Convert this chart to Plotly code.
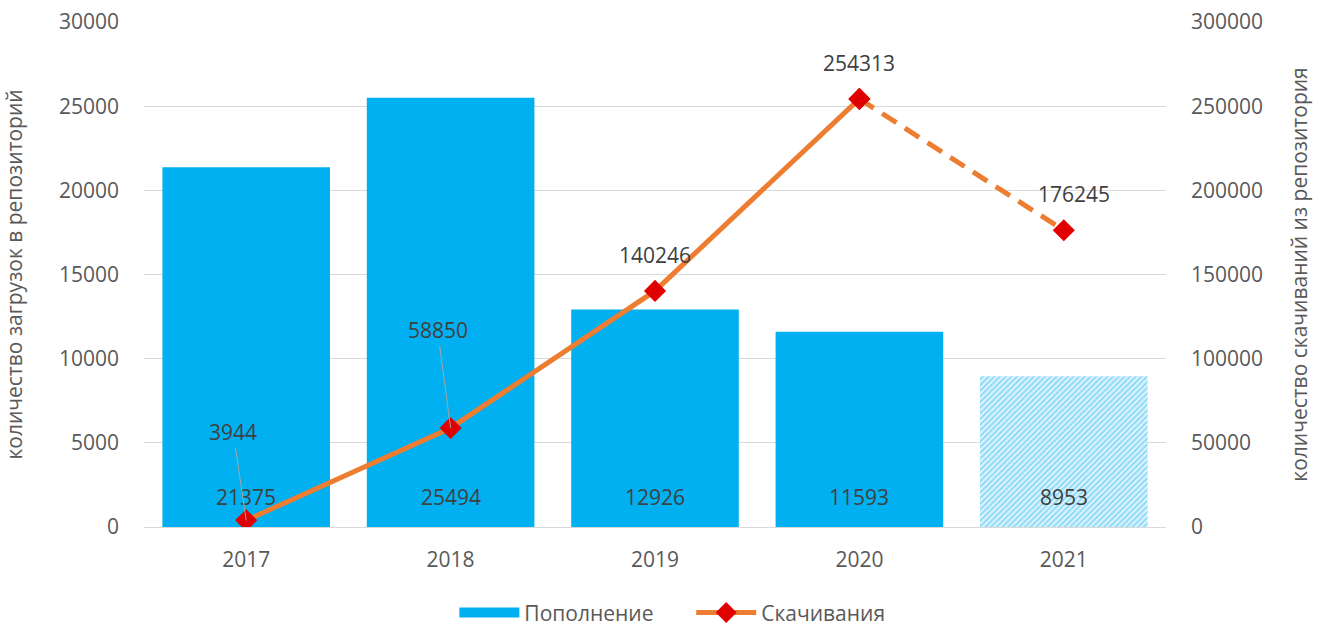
import plotly.graph_objects as go

years = [2017, 2018, 2019, 2020, 2021]
uploads = [21375, 25494, 12926, 11593, 8953]
downloads = [3944, 58850, 140246, 254313, 176245]

left_ticks = [0, 5000, 10000, 15000, 20000, 25000, 30000]
right_ticks = [0, 50000, 100000, 150000, 200000, 250000, 300000]

BLUE = "#00B0F0"
ORANGE = "#ED7D31"
RED = "#E00000"
TXT = "#595959"
LBL = "#404040"
FONT = "Open Sans"
FS = 21

fig = go.Figure()

fig.add_trace(go.Bar(
    x=years[:4], y=uploads[:4], name="Пополнение",
    marker=dict(color=BLUE, line=dict(width=0)),
    width=0.82, showlegend=False, hoverinfo="skip",
))
fig.add_trace(go.Bar(
    x=years[4:], y=uploads[4:], name="Пополнение",
    marker=dict(color="#DDF3FC", line=dict(width=0),
                pattern=dict(shape="/", fgcolor="#2EBDF2", bgcolor="#DDF3FC",
                             size=4, solidity=0.45)),
    width=0.82, showlegend=False, hoverinfo="skip",
))
fig.add_trace(go.Scatter(
    x=[None], y=[None], name="Пополнение      ", mode="lines",
    line=dict(color=BLUE, width=14), hoverinfo="skip",
))
fig.add_trace(go.Scatter(
    x=years[:4], y=downloads[:4], name="Скачивания", yaxis="y2",
    mode="lines+markers",
    line=dict(color=ORANGE, width=5),
    marker=dict(symbol="diamond", size=17, color=RED),
))
fig.add_trace(go.Scatter(
    x=years[3:], y=downloads[3:], name="Скачивания", yaxis="y2",
    mode="lines+markers", showlegend=False,
    line=dict(color=ORANGE, width=5, dash="17px,10px"),
    marker=dict(symbol="diamond", size=17, color=RED),
))

annotations = []
for yr, v in zip(years, uploads):
    annotations.append(dict(x=yr, y=0, xref="x", yref="y", text=str(v),
                            showarrow=False, yanchor="bottom", yshift=14,
                            font=dict(size=FS, color=LBL, family=FONT)))

leader = {0: (-13, -88), 1: (-13, -98)}
for i, (yr, v) in enumerate(zip(years, downloads)):
    if i in leader:
        ax, ay = leader[i]
        annotations.append(dict(x=yr, y=v, xref="x", yref="y2", text=str(v),
                                showarrow=True, arrowhead=0, arrowwidth=1,
                                arrowcolor="#A6A6A6", ax=ax, ay=ay, standoff=0,
                                font=dict(size=FS, color=LBL, family=FONT)))
    else:
        xs = 10 if i == 4 else 0
        annotations.append(dict(x=yr, y=v, xref="x", yref="y2", text=str(v),
                                showarrow=False, yanchor="bottom", yshift=20,
                                xshift=xs,
                                font=dict(size=FS, color=LBL, family=FONT)))

fig.update_layout(
    width=1320, height=626,
    margin=dict(l=144, r=154, t=22, b=99, autoexpand=False),
    paper_bgcolor="white", plot_bgcolor="white",
    font=dict(family=FONT, size=FS, color=TXT),
    barmode="overlay",
    xaxis=dict(type="linear", range=[years[0] - 0.5, years[-1] + 0.5],
               tickvals=years, ticktext=[str(y) for y in years],
               showgrid=False, showline=True, zeroline=False, automargin=False,
               linecolor="#D9D9D9", ticks="", ticklabelstandoff=14,
               tickfont=dict(size=FS, color=TXT)),
    yaxis=dict(type="linear", range=[0, 30000], tickvals=left_ticks,
               ticktext=[str(t) for t in left_ticks], automargin=False,
               showgrid=True, gridcolor="#D9D9D9",
               zeroline=False, showline=False, ticks="", ticklabelstandoff=24,
               tickfont=dict(size=FS, color=TXT),
               title=dict(text="количество загрузок в репозиторий",
                          font=dict(size=FS, color=TXT), standoff=30)),
    yaxis2=dict(type="linear", range=[0, 300000], tickvals=right_ticks,
                ticktext=[str(t) for t in right_ticks], automargin=False,
                overlaying="y", side="right", showgrid=False,
                zeroline=False, showline=False, ticks="", ticklabelstandoff=24,
                tickfont=dict(size=FS, color=TXT),
                title=dict(text="количество скачиваний из репозитория",
                           font=dict(size=FS, color=TXT), standoff=30)),
    legend=dict(orientation="h", x=0.517, xanchor="center", y=-0.17,
                yanchor="middle", font=dict(size=FS, color=TXT),
                itemwidth=60, traceorder="normal"),
    annotations=annotations,
)

fig.write_html("out.html")
